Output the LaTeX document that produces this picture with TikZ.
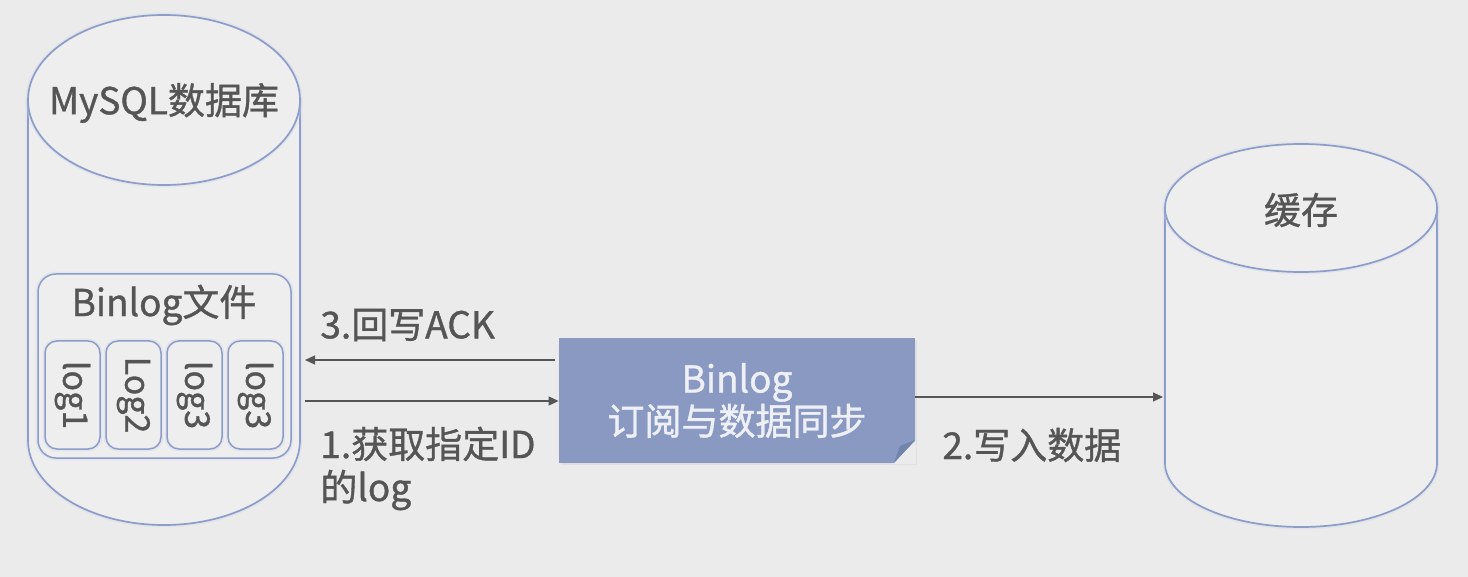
\documentclass[tikz,border=0pt]{standalone}
\usepackage{fontspec}
\newfontfamily\cjk{Noto Sans CJK SC}[FakeBold=1]
\usepackage{tikz}
\usetikzlibrary{positioning,calc,arrows.meta}
\definecolor{bgcol}{HTML}{EBEBEB}
\definecolor{cylfill}{HTML}{EEEEEF}
\definecolor{edgecol}{HTML}{8D9CC8}
\definecolor{txtcol}{HTML}{555555}
\definecolor{syncfill}{HTML}{8999C2}
\definecolor{foldcol}{HTML}{7184AE}
\definecolor{synctxt}{HTML}{EEF0F6}
\tikzset{
  labeltext/.style={font=\cjk\fontsize{18.5}{21.5}\selectfont, text=txtcol, inner sep=0pt},
  logtext/.style={font=\cjk\fontsize{17}{18}\selectfont, text=txtcol, inner sep=0pt, rotate=-90},
  glow/.style={preaction={draw=edgecol!40, line width=2.4pt, opacity=0.35}},
  cyl/.style={glow, draw=edgecol, line width=0.85pt, fill=cylfill},
  logbox/.style={glow, draw=edgecol, line width=0.75pt, rounded corners=6pt, fill=cylfill},
  syncbox/.style={fill=syncfill, text=synctxt, align=center, inner sep=0pt,
    minimum width=178pt, minimum height=62pt, font=\cjk\fontsize{18.5}{20}\selectfont},
  flow/.style={draw=txtcol, line width=0.6pt, -{Triangle[length=5pt,width=4.5pt]}},
}

\begin{document}
\begin{tikzpicture}[x=0.5pt,y=-0.5pt]
    \useasboundingbox (0,0) rectangle (1468,577);
    \fill [bgcol] (0,0) rectangle (1468,577);

    % MySQL cylinder
    \filldraw [cyl] (28,100) -- (28,440) arc [start angle=180, end angle=0, x radius=136, y radius=85] -- (300,100) -- cycle;
    \filldraw [cyl] (164,100) ellipse [x radius=136, y radius=85];
    \node [labeltext] (mysql) at (164,103) {MySQL数据库};

    % Binlog file with logs
    \draw [logbox, rounded corners=9pt] (38,274) rectangle (291,458);
    \node [labeltext] (binlogfile) at (164,305) {Binlog文件};
    \foreach \x/\t [count=\i] in {45/log1, 106/Log2, 167/log3, 228/log3} {
        \draw [logbox] (\x,341) rectangle ++(55,108);
        \node [logtext] (log\i) at (\x+27.5,395) {\t};
    }

    % Cache cylinder
    \filldraw [cyl] (1165,208) -- (1165,463) arc [start angle=180, end angle=0, x radius=136, y radius=64] -- (1437,208) -- cycle;
    \filldraw [cyl] (1301,208) ellipse [x radius=136, y radius=64];
    \node [labeltext] (cache) at (1301,210) {缓存};

    % Binlog subscription box (dog-eared)
    \node [syncbox, preaction={fill=black, opacity=0.05, transform canvas={shift={(1pt,-1pt)}}}] (sync) at (737,400.5) {Binlog\\订阅与数据同步};
    \fill [bgcol] (916,440) -- (916,464) -- (893,464) -- cycle;
    \fill [foldcol] (915,440) -- (894,463) -- (900,446) -- cycle;

    % Connectors
    \coordinate (dbin) at (305,360);
    \coordinate (dbout) at (305,401);
    \coordinate (cachein) at (1163,397);
    \draw [flow] ([xshift=-2pt]sync.west |- dbin) -- (dbin);
    \draw [flow] (dbout) -- (sync.west |- dbout);
    \draw [flow] (sync.east |- cachein) -- (cachein);

    % Step labels
    \node [labeltext, anchor=west] (ack) at (320,325) {3.回写ACK};
    \node [labeltext, anchor=west, align=left] (fetch) at (320,468.5) {1.获取指定ID\\的log};
    \node [labeltext, anchor=west] (write) at (942,445) {2.写入数据};
\end{tikzpicture}
\end{document}
